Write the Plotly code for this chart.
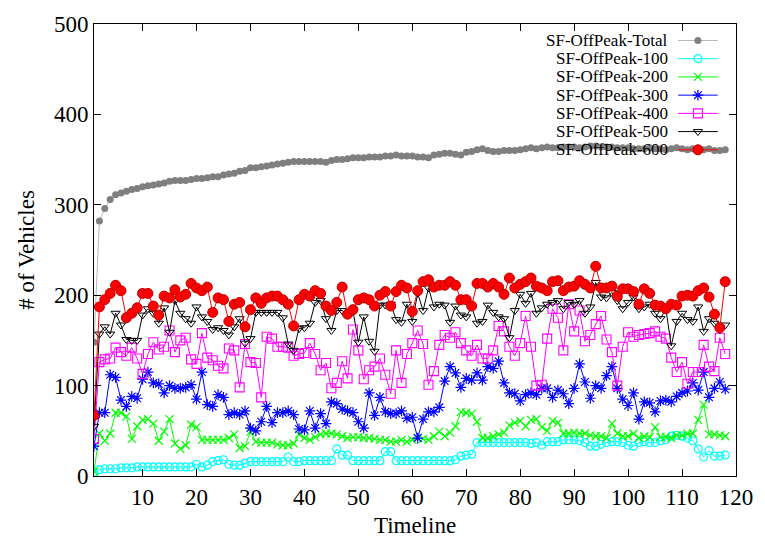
import plotly.graph_objects as go

# Timeline steps (one sample per step)
steps = list(range(1, 119))

total = [148, 282, 296, 306, 311, 313, 315, 317, 318, 320, 321, 322, 323, 324, 326, 327, 327, 327, 328, 329,
         329, 330, 331, 331, 333, 334, 335, 337, 338, 341, 341, 342, 343, 344, 345, 346, 347, 348, 348, 348,
         348, 348, 348, 347, 349, 350, 350, 351, 352, 352, 352, 353, 353, 353, 354, 354, 355, 354, 354, 354,
         353, 353, 352, 355, 356, 357, 357, 356, 355, 358, 359, 361, 362, 360, 359, 359, 360, 360, 360, 361,
         362, 363, 362, 363, 364, 363, 363, 364, 364, 364, 363, 364, 365, 365, 364, 364, 364, 363, 363, 363,
         362, 362, 362, 363, 362, 362, 361, 362, 363, 362, 361, 362, 362, 361, 362, 360, 360, 361]

s100 = [4, 7, 8, 8, 8, 9, 9, 9, 10, 10, 10, 10, 10, 10, 10, 10, 10, 10, 10, 13,
        10, 12, 16, 17, 18, 13, 12, 12, 14, 16, 16, 16, 16, 16, 16, 16, 21, 16, 16, 17,
        17, 17, 17, 17, 17, 30, 23, 23, 17, 17, 17, 17, 17, 17, 27, 27, 17, 17, 17, 17,
        17, 17, 17, 17, 17, 17, 17, 18, 22, 23, 24, 37, 37, 37, 37, 37, 37, 37, 37, 37,
        37, 36, 37, 34, 38, 38, 38, 40, 40, 40, 39, 37, 33, 33, 35, 37, 38, 38, 37, 34,
        33, 37, 38, 37, 37, 39, 40, 44, 45, 44, 42, 39, 30, 21, 28, 22, 22, 23]

s200 = [5, 47, 39, 47, 70, 70, 66, 41, 55, 62, 63, 58, 39, 49, 63, 36, 30, 34, 57, 54,
        40, 40, 40, 40, 40, 42, 46, 31, 33, 49, 38, 37, 37, 37, 35, 34, 34, 36, 46, 42,
        40, 43, 46, 47, 47, 46, 44, 42, 43, 43, 42, 42, 41, 40, 40, 38, 38, 40, 38, 40,
        42, 41, 40, 44, 49, 44, 48, 55, 71, 70, 69, 60, 42, 42, 44, 46, 48, 56, 59, 61,
        55, 62, 63, 54, 50, 61, 59, 47, 47, 48, 47, 47, 45, 44, 44, 42, 58, 47, 44, 44,
        47, 42, 44, 43, 54, 43, 43, 42, 45, 45, 47, 47, 62, 79, 46, 46, 45, 44]

s300 = [33, 70, 70, 112, 109, 84, 77, 88, 86, 107, 115, 103, 102, 92, 100, 97, 97, 98, 101, 85,
        115, 79, 77, 90, 87, 68, 70, 68, 72, 53, 50, 60, 77, 59, 70, 70, 72, 68, 52, 51,
        72, 53, 69, 58, 82, 80, 74, 72, 70, 60, 53, 92, 67, 87, 71, 69, 69, 72, 64, 65,
        42, 63, 71, 71, 76, 105, 121, 114, 98, 108, 106, 114, 106, 121, 119, 127, 103, 92, 91, 83,
        90, 92, 90, 97, 97, 87, 95, 91, 80, 97, 124, 104, 86, 100, 97, 111, 121, 97, 85, 78,
        92, 63, 82, 81, 71, 83, 84, 82, 88, 92, 94, 103, 95, 115, 87, 97, 104, 96]

s400 = [41, 126, 129, 130, 142, 137, 133, 142, 130, 113, 135, 148, 140, 143, 161, 137, 150, 153, 129, 124,
        158, 131, 128, 122, 119, 141, 139, 98, 146, 126, 125, 87, 154, 152, 143, 143, 142, 133, 135, 136,
        147, 135, 117, 125, 97, 103, 127, 108, 162, 139, 107, 117, 121, 130, 112, 91, 139, 103, 135, 147,
        161, 146, 101, 116, 145, 156, 153, 159, 147, 139, 133, 145, 130, 130, 139, 166, 160, 143, 133, 147,
        177, 143, 100, 101, 152, 185, 175, 139, 190, 160, 183, 149, 156, 168, 177, 151, 137, 100, 143, 159,
        154, 156, 157, 158, 160, 154, 152, 131, 115, 126, 102, 115, 115, 145, 121, 116, 153, 135]

s500 = [55, 157, 165, 157, 180, 167, 151, 150, 150, 178, 185, 180, 169, 186, 159, 194, 180, 174, 169, 187,
        176, 171, 162, 164, 161, 156, 165, 174, 147, 152, 181, 181, 181, 181, 181, 175, 146, 139, 163, 164,
        169, 192, 194, 174, 161, 183, 183, 178, 183, 148, 176, 149, 138, 189, 189, 190, 173, 170, 190, 171,
        202, 183, 208, 187, 190, 189, 170, 188, 178, 176, 187, 169, 171, 189, 181, 176, 174, 153, 183, 201,
        191, 202, 180, 186, 190, 192, 194, 185, 192, 190, 194, 180, 187, 214, 198, 197, 203, 194, 185, 192,
        198, 185, 187, 190, 180, 174, 185, 144, 171, 180, 173, 171, 187, 160, 174, 169, 162, 167]

s600 = [67, 187, 195, 202, 211, 205, 175, 180, 186, 202, 202, 188, 178, 199, 197, 206, 198, 201, 213, 208,
        205, 209, 181, 197, 195, 171, 190, 192, 165, 184, 197, 191, 197, 199, 199, 195, 190, 166, 195, 201,
        199, 205, 202, 188, 183, 192, 209, 179, 184, 195, 197, 195, 188, 200, 204, 188, 204, 211, 208, 182,
        205, 215, 217, 209, 211, 211, 215, 211, 195, 195, 188, 213, 213, 209, 213, 209, 201, 219, 208, 212,
        215, 219, 210, 208, 205, 215, 216, 205, 209, 210, 216, 212, 208, 232, 208, 208, 210, 199, 207, 207,
        204, 190, 207, 202, 189, 188, 185, 190, 189, 199, 200, 199, 205, 208, 198, 179, 164, 215]

names = ["SF-OffPeak-Total", "SF-OffPeak-100", "SF-OffPeak-200", "SF-OffPeak-300",
         "SF-OffPeak-400", "SF-OffPeak-500", "SF-OffPeak-600"]
series = [total, s100, s200, s300, s400, s500, s600]

# (line colour, marker colour, symbol, size, marker outline width)
styles = [
    ("#b8b8b8", "#7f7f7f", "circle", 7, 0),
    ("#00ffff", "#00ffff", "circle-open", 8, 1.2),
    ("#00ff00", "#00ff00", "x-thin-open", 8, 1.2),
    ("#0000ff", "#0000ff", "asterisk-open", 9, 1.2),
    ("#ff00ff", "#ff00ff", "square-open", 9, 1.1),
    ("#000000", "#000000", "triangle-down-open", 8, 1.0),
    ("#ff0000", "#ff0000", "circle", 10, 1.0),
]

FONT = "Liberation Serif, Times New Roman, serif"


def outline(sym, mc, lw):
    # filled red dots get a darker rim, the rest keep their own colour
    if sym == "circle" and lw > 0:
        return dict(width=lw, color="#c00000")
    return dict(width=lw, color=mc)


fig = go.Figure()
for name, ys, (lc, mc, sym, sz, lw) in zip(names, series, styles):
    fig.add_trace(go.Scatter(
        x=steps, y=ys, name=name, mode="lines+markers",
        line=dict(color=lc, width=1),
        marker=dict(symbol=sym, size=sz, color=mc, line=outline(sym, mc, lw)),
        showlegend=False, xaxis="x", yaxis="y",
    ))

# Key in the upper right: label, then a short sample line with its marker
key_top = 0.9635
key_step = 0.0403
x_text = 0.8966
x_line = [0.9098, 0.9716]
x_mark = 0.9407
for k, (name, (lc, mc, sym, sz, lw)) in enumerate(zip(names, styles)):
    yk = key_top - k * key_step
    fig.add_trace(go.Scatter(
        x=x_line, y=[yk, yk], mode="lines", line=dict(color=lc, width=1),
        showlegend=False, hoverinfo="skip", xaxis="x2", yaxis="y2",
    ))
    fig.add_trace(go.Scatter(
        x=[x_mark], y=[yk], mode="markers",
        marker=dict(symbol=sym, size=sz, color=mc, line=outline(sym, mc, lw)),
        showlegend=False, hoverinfo="skip", xaxis="x2", yaxis="y2",
    ))
    fig.add_annotation(
        x=x_text, y=yk, xref="x domain", yref="y domain", text=name,
        showarrow=False, xanchor="right", yanchor="middle",
        font=dict(family=FONT, size=17, color="black"),
    )

axis_common = dict(
    showline=True, linecolor="black", linewidth=1, mirror="allticks",
    ticks="inside", ticklen=7, tickcolor="black", showgrid=False, zeroline=False,
    tickfont=dict(family=FONT, size=23, color="black"),
    ticklabeloverflow="allow",
)

fig.update_layout(
    width=765, height=546,
    margin=dict(l=94, r=13, t=17, b=64),
    paper_bgcolor="white", plot_bgcolor="white",
    font=dict(family=FONT, color="black"),
    showlegend=False,
    xaxis=dict(range=[1, 120], tickvals=list(range(10, 121, 10)),
               title=dict(text="Timeline", font=dict(family=FONT, size=23), standoff=8),
               **axis_common),
    yaxis=dict(range=[0, 500], tickvals=list(range(0, 501, 100)),
               title=dict(text="# of Vehicles", font=dict(family=FONT, size=23), standoff=12),
               **axis_common),
    xaxis2=dict(overlaying="x", range=[0, 1], visible=False),
    yaxis2=dict(overlaying="y", range=[0, 1], visible=False),
)

fig.write_html("out.html")
